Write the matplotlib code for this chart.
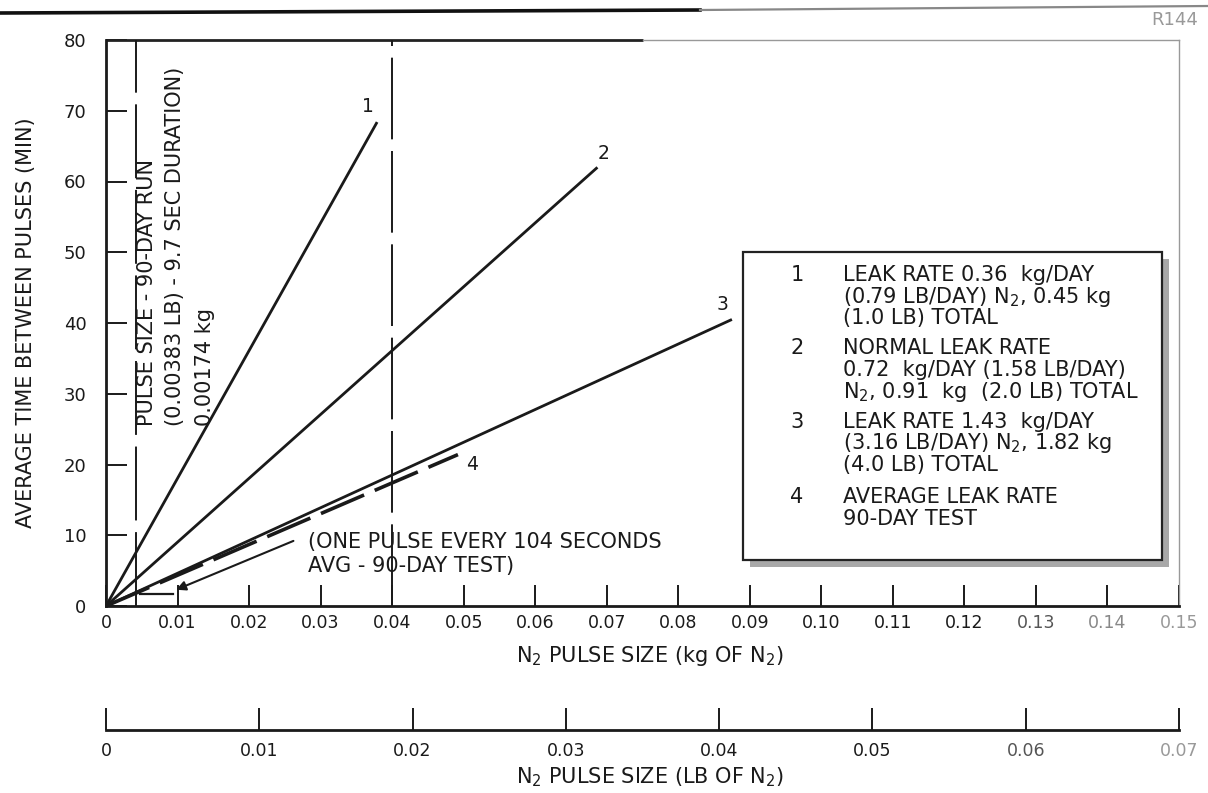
import matplotlib
matplotlib.use('Agg')
import matplotlib.pyplot as plt
from matplotlib.patches import Rectangle
from matplotlib.lines import Line2D

plt.rcParams['font.family'] = ['DejaVu Sans']
plt.rcParams['mathtext.fontset'] = 'dejavusans'

W, H = 1208, 793
INK = '#1a1a1a'

# ---------------- data ----------------
kg_ticks = [0, 0.01, 0.02, 0.03, 0.04, 0.05, 0.06, 0.07, 0.08, 0.09, 0.10,
            0.11, 0.12, 0.13, 0.14, 0.15]
kg_tick_labels = ['0', '0.01', '0.02', '0.03', '0.04', '0.05', '0.06', '0.07',
                  '0.08', '0.09', '0.10', '0.11', '0.12', '0.13', '0.14', '0.15']
lb_ticks = [0, 0.01, 0.02, 0.03, 0.04, 0.05, 0.06, 0.07]
lb_tick_labels = ['0', '0.01', '0.02', '0.03', '0.04', '0.05', '0.06', '0.07']
y_ticks = [0, 10, 20, 30, 40, 50, 60, 70, 80]

line_ids = ['1', '2', '3']
line_x = [[0, 0.0379], [0, 0.0687], [0, 0.0875]]
line_y = [[0, 68.4], [0, 62.0], [0, 40.5]]
line_label_xy = [(0.0366, 70.6), (0.0695, 64.0), (0.0862, 42.6)]

avg_x = [0, 0.0492]
avg_y = [0, 21.4]
avg_label_xy = (0.0512, 20.0)

pulse_kg = 0.0042          # 90-day run pulse size (as drawn)
ref_kg = 0.04
pulse_interval_min = 1.73   # 104 seconds
pulse_mark_x = [0.0048, 0.0094]

legend_entries = [
    ('1', ['LEAK RATE 0.36  kg/DAY', '(0.79 LB/DAY) N$_2$, 0.45 kg', '(1.0 LB) TOTAL']),
    ('2', ['NORMAL LEAK RATE', '0.72  kg/DAY (1.58 LB/DAY)', 'N$_2$, 0.91  kg  (2.0 LB) TOTAL']),
    ('3', ['LEAK RATE 1.43  kg/DAY', '(3.16 LB/DAY) N$_2$, 1.82 kg', '(4.0 LB) TOTAL']),
    ('4', ['AVERAGE LEAK RATE', '90-DAY TEST']),
]

# ---------------- figure ----------------
fig = plt.figure(figsize=(W / 100, H / 100), dpi=100)
fig.patch.set_facecolor('white')

def fx(px):
    return px / W

def fy(py):
    return 1 - py / H

ax = fig.add_axes([fx(106), fy(606), fx(1179) - fx(106), fy(40) - fy(606)])
ax.set_xlim(0, 0.15)
ax.set_ylim(0, 80)
ax.set_xticks(kg_ticks)
ax.set_xticklabels(kg_tick_labels)
ax.set_yticks(y_ticks)
ax.tick_params(axis='both', direction='in', length=15, width=1.4, colors=INK,
               labelsize=12.5)
ax.tick_params(axis='y', pad=14, labelsize=13)
ax.tick_params(axis='x', pad=6)
for lbl, c in zip(ax.get_xticklabels()[-3:], ['#555', '#888', '#999']):
    lbl.set_color(c)
ax.spines['left'].set_linewidth(2.0)
ax.spines['bottom'].set_linewidth(2.0)
ax.spines['left'].set_color(INK)
ax.spines['bottom'].set_color(INK)
ax.spines['top'].set_visible(False)
ax.spines['right'].set_color('#999')
ax.spines['right'].set_linewidth(1.0)
# top frame: dark on the left, fading to grey on the right
ax.plot([0, 0.075], [80, 80], color='#222', lw=2.0, clip_on=False,
        solid_capstyle='butt')
ax.plot([0.075, 0.15], [80, 80], color='#999', lw=1.0, clip_on=False)

ax.set_ylabel('AVERAGE TIME BETWEEN PULSES (MIN)', fontsize=15, color=INK,
              labelpad=20)

# solid leak-rate lines
for lid, xs, ys, (lx, ly) in zip(line_ids, line_x, line_y, line_label_xy):
    ax.plot(xs, ys, color=INK, lw=2.0, solid_capstyle='butt')
    ax.text(lx, ly, lid, fontsize=13.5, color=INK, ha='center', va='center')

# average (dashed) line
ax.plot(avg_x, avg_y, color=INK, lw=2.6, linestyle=(0, (13, 3.2)))
ax.text(avg_label_xy[0], avg_label_xy[1], '4', fontsize=13.5, color=INK,
        ha='center', va='center')

# vertical reference lines
ax.axvline(pulse_kg, color=INK, lw=1.4, linestyle=(0, (38, 6)))
ax.axvline(ref_kg, color=INK, lw=1.4, linestyle=(0, (42, 6)))

# rotated pulse-size annotation (bottom-aligned)
rot_lines = [('PULSE SIZE - 90-DAY RUN', 0.0057),
             ('(0.00383 LB) - 9.7 SEC DURATION)', 0.0097),
             ('0.00174 kg', 0.0138)]
for txt, xx in rot_lines:
    ax.text(xx, 25.5, txt, rotation=90, rotation_mode='anchor', ha='left',
            va='center', fontsize=15, color=INK)

# pulse interval marker and arrow
ax.plot(pulse_mark_x, [pulse_interval_min] * 2, color=INK, lw=1.6)
ax.annotate('', xy=(0.0098, 2.3), xytext=(0.0262, 9.2),
            arrowprops=dict(arrowstyle='-|>', color=INK, lw=1.5,
                            mutation_scale=14, shrinkA=0, shrinkB=0))
ax.text(0.0282, 9.0, '(ONE PULSE EVERY 104 SECONDS', fontsize=15, color=INK,
        ha='left', va='center')
ax.text(0.0282, 5.6, 'AVG - 90-DAY TEST)', fontsize=15, color=INK,
        ha='left', va='center')

# legend box with drop shadow (pixel placement)
bx0, bx1, by0, by1 = 743, 1162, 252, 560
sh = 7
fig.patches.append(Rectangle((fx(bx0 + sh), fy(by1 + sh)), fx(bx1) - fx(bx0),
                             fy(by0) - fy(by1), transform=fig.transFigure,
                             facecolor='#a8a8a8', edgecolor='none', zorder=5))
fig.patches.append(Rectangle((fx(bx0), fy(by1)), fx(bx1) - fx(bx0),
                             fy(by0) - fy(by1), transform=fig.transFigure,
                             facecolor='white', edgecolor='#222', lw=1.6,
                             zorder=6))
row_y = [[275, 297, 318], [348, 370, 392], [422, 443, 465], [497, 519]]
for (num, lines), ys in zip(legend_entries, row_y):
    fig.text(fx(797), fy(ys[0]), num, fontsize=15, color=INK, ha='center',
             va='center', zorder=7)
    for t, yy in zip(lines, ys):
        fig.text(fx(843), fy(yy), t, fontsize=15, color=INK, ha='left',
                 va='center', zorder=7)

# x label (kg)
fig.text(fx(650), fy(656), 'N$_2$ PULSE SIZE (kg OF N$_2$)', fontsize=15,
         color=INK, ha='center', va='center')

# secondary LB axis
ax2 = fig.add_axes([fx(106), fy(730), fx(1179) - fx(106), 0.0005])
ax2.set_xlim(0, 0.07)
ax2.set_ylim(0, 1)
ax2.set_xticks(lb_ticks)
ax2.set_xticklabels(lb_tick_labels)
ax2.set_yticks([])
for s in ['left', 'right', 'top']:
    ax2.spines[s].set_visible(False)
ax2.spines['bottom'].set_linewidth(2.0)
ax2.spines['bottom'].set_color(INK)
ax2.tick_params(axis='x', direction='in', length=16, width=1.4, colors=INK,
                labelsize=12.5, pad=9)
ax2.get_xticklabels()[-1].set_color('#999')
ax2.get_xticklabels()[-2].set_color('#555')
ax2.patch.set_visible(False)

fig.text(fx(650), fy(777), 'N$_2$ PULSE SIZE (LB OF N$_2$)', fontsize=15,
         color=INK, ha='center', va='center')

# page rule and figure code
fig.add_artist(Line2D([0, fx(700)], [fy(13), fy(10)], transform=fig.transFigure,
                      color='#111', lw=2.6))
fig.add_artist(Line2D([fx(700), 1], [fy(10), fy(6)], transform=fig.transFigure,
                      color='#888', lw=1.6))
fig.text(fx(1198), fy(20), 'R144', fontsize=13, color='#999', ha='right',
         va='center')

fig.savefig('out.png', dpi=100, facecolor='white')
